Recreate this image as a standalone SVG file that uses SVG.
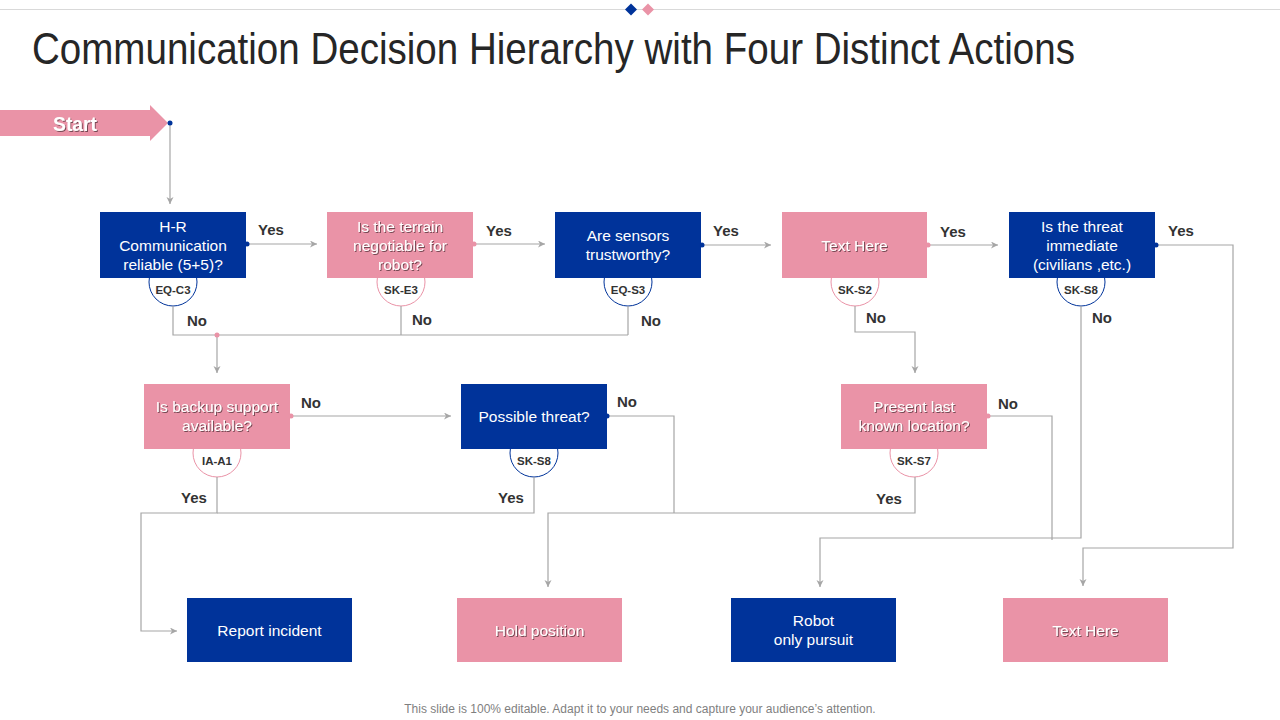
<svg xmlns="http://www.w3.org/2000/svg" width="1280" height="720" viewBox="0 0 1280 720">
<defs>
<style>
.navy{fill:#00339A}
.pink{fill:#EA93A7}
.bt{font-family:"Liberation Sans",Arial,sans-serif;font-size:15.5px;fill:#FFFFFF;text-anchor:middle}
.pt{filter:url(#sh)}
.cn{fill:#FFFFFF;stroke-width:1}
.cnn{stroke:#00339A}
.cnp{stroke:#EA93A7}
.cl{font-family:"Liberation Sans",Arial,sans-serif;font-size:11.5px;font-weight:bold;fill:#333333;text-anchor:middle}
.ln{fill:none;stroke:#A6A6A6;stroke-width:1.2}
.ar{marker-end:url(#ah)}
.lb{font-family:"Liberation Sans",Arial,sans-serif;font-size:15px;font-weight:bold;fill:#333333;text-anchor:middle}
</style>
<filter id="sh" x="-10%" y="-30%" width="120%" height="160%">
<feDropShadow dx="1" dy="1" stdDeviation="0.6" flood-color="#000000" flood-opacity="0.5"/>
</filter>
<marker id="ah" markerUnits="userSpaceOnUse" markerWidth="9" markerHeight="9" refX="7" refY="3.5" orient="auto">
<path d="M0,0 L7,3.5 L0,7 L2,3.5 z" fill="#A6A6A6"/>
</marker>
</defs>
<rect x="0" y="0" width="1280" height="720" fill="#FFFFFF"/>
<g id="header">
<line x1="0" y1="9.5" x2="1280" y2="9.5" stroke="#D9D9D9" stroke-width="1"/>
<path d="M631,3.5 L637,9.5 L631,15.5 L625,9.5 z" fill="#00339A"/>
<path d="M648,3.5 L654,9.5 L648,15.5 L642,9.5 z" fill="#EA93A7"/>
<text x="32" y="64" font-family="Liberation Sans,Arial,sans-serif" font-size="44" fill="#262626" textLength="1043" lengthAdjust="spacingAndGlyphs">Communication Decision Hierarchy with Four Distinct Actions</text>
</g>
<g id="start">
<path d="M0,110 H150 V105 L168,123 L150,141 V136 H0 z" class="pink"/>
<text x="75" y="131" font-family="Liberation Sans,Arial,sans-serif" font-size="20" font-weight="bold" fill="#FFFFFF" text-anchor="middle" filter="url(#sh)" textLength="44" lengthAdjust="spacingAndGlyphs">Start</text>
</g>
<g id="n1">
<circle cx="173" cy="282" r="24" class="cn cnn"/>
<rect x="100" y="212" width="146" height="66" class="navy"/>
<text class="bt"><tspan x="173" y="232">H-R</tspan><tspan x="173" y="251">Communication</tspan><tspan x="173" y="270">reliable (5+5)?</tspan></text>
<text x="173" y="294" class="cl">EQ-C3</text>
</g>
<g id="n2">
<circle cx="401" cy="282" r="24" class="cn cnp"/>
<rect x="327" y="212" width="146" height="66" class="pink"/>
<text class="bt pt"><tspan x="400" y="232">Is the terrain</tspan><tspan x="400" y="251">negotiable for</tspan><tspan x="400" y="270">robot?</tspan></text>
<text x="401" y="294" class="cl">SK-E3</text>
</g>
<g id="n3">
<circle cx="628" cy="282" r="24" class="cn cnn"/>
<rect x="555" y="212" width="146" height="66" class="navy"/>
<text class="bt"><tspan x="628" y="241">Are sensors</tspan><tspan x="628" y="260">trustworthy?</tspan></text>
<text x="628" y="294" class="cl">EQ-S3</text>
</g>
<g id="n4">
<circle cx="855" cy="282" r="24" class="cn cnp"/>
<rect x="782" y="212" width="145" height="66" class="pink"/>
<text x="854.5" y="251" class="bt pt">Text Here</text>
<text x="855" y="294" class="cl">SK-S2</text>
</g>
<g id="n5">
<circle cx="1081" cy="282" r="24" class="cn cnn"/>
<rect x="1009" y="212" width="146" height="66" class="navy"/>
<text class="bt"><tspan x="1082" y="232">Is the threat</tspan><tspan x="1082" y="251">immediate</tspan><tspan x="1082" y="270">(civilians ,etc.)</tspan></text>
<text x="1081" y="294" class="cl">SK-S8</text>
</g>
<g id="b1">
<circle cx="217" cy="453" r="24" class="cn cnp"/>
<rect x="144" y="384" width="146" height="65" class="pink"/>
<text class="bt pt"><tspan x="217" y="412">Is backup support</tspan><tspan x="217" y="431">available?</tspan></text>
<text x="217" y="465" class="cl">IA-A1</text>
</g>
<g id="b2">
<circle cx="534" cy="453" r="24" class="cn cnn"/>
<rect x="461" y="384" width="146" height="65" class="navy"/>
<text x="534" y="422" class="bt">Possible threat?</text>
<text x="534" y="465" class="cl">SK-S8</text>
</g>
<g id="b3">
<circle cx="914" cy="453" r="24" class="cn cnp"/>
<rect x="841" y="384" width="146" height="65" class="pink"/>
<text class="bt pt"><tspan x="914" y="412">Present last</tspan><tspan x="914" y="431">known location?</tspan></text>
<text x="914" y="465" class="cl">SK-S7</text>
</g>
<g id="r1">
<rect x="187" y="598" width="165" height="64" class="navy"/>
<text x="269.5" y="636" class="bt">Report incident</text>
</g>
<g id="r2">
<rect x="457" y="598" width="165" height="64" class="pink"/>
<text x="539.5" y="636" class="bt pt">Hold position</text>
</g>
<g id="r3">
<rect x="731" y="598" width="165" height="64" class="navy"/>
<text class="bt"><tspan x="813.5" y="626">Robot</tspan><tspan x="813.5" y="645">only pursuit</tspan></text>
</g>
<g id="r4">
<rect x="1003" y="598" width="165" height="64" class="pink"/>
<text x="1085.5" y="636" class="bt pt">Text Here</text>
</g>
<g id="connectors">
<path d="M170,123 V204" class="ln ar"/>
<path d="M247,244 H317" class="ln ar"/>
<path d="M474,244 H545" class="ln ar"/>
<path d="M702,245 H771" class="ln ar"/>
<path d="M928,245 H998" class="ln ar"/>
<path d="M1156,245 H1233 V548 H1083 V586" class="ln ar"/>
<path d="M173,306 V335 H628 M401,306 V335 M628,306 V335" class="ln"/>
<path d="M217,335 V373" class="ln ar"/>
<path d="M855,306 V332 H915 V373" class="ln ar"/>
<path d="M1081,306 V538 H820 V587" class="ln ar"/>
<path d="M291,416 H451" class="ln ar"/>
<path d="M607,416 H674 V513" class="ln"/>
<path d="M988,416 H1052 V540" class="ln"/>
<path d="M915,477 V513 H548 V587" class="ln ar"/>
<path d="M217,477 V513 H141 V631 H177" class="ln ar"/>
<path d="M534,477 V513 H217" class="ln"/>
<circle cx="170" cy="123" r="2.5" fill="#00339A"/>
<circle cx="247" cy="244" r="2.5" fill="#00339A"/>
<circle cx="474" cy="244" r="2.5" fill="#EA93A7"/>
<circle cx="702" cy="245" r="2.5" fill="#00339A"/>
<circle cx="928" cy="245" r="2.5" fill="#EA93A7"/>
<circle cx="1156" cy="245" r="2.5" fill="#00339A"/>
<circle cx="217" cy="335" r="2.5" fill="#EA93A7"/>
<circle cx="291" cy="416" r="2.5" fill="#EA93A7"/>
<circle cx="607" cy="416" r="2.5" fill="#00339A"/>
<circle cx="988" cy="416" r="2.5" fill="#EA93A7"/>
<text x="271" y="235" class="lb">Yes</text>
<text x="499" y="236" class="lb">Yes</text>
<text x="726" y="236" class="lb">Yes</text>
<text x="953" y="237" class="lb">Yes</text>
<text x="1181" y="236" class="lb">Yes</text>
<text x="197" y="326" class="lb">No</text>
<text x="422" y="325" class="lb">No</text>
<text x="651" y="326" class="lb">No</text>
<text x="876" y="323" class="lb">No</text>
<text x="1102" y="323" class="lb">No</text>
<text x="311" y="408" class="lb">No</text>
<text x="627" y="407" class="lb">No</text>
<text x="1008" y="409" class="lb">No</text>
<text x="194" y="503" class="lb">Yes</text>
<text x="511" y="503" class="lb">Yes</text>
<text x="889" y="504" class="lb">Yes</text>
</g>
<g id="footer">
<text x="640" y="713" font-family="Liberation Sans,Arial,sans-serif" font-size="12" fill="#7F7F7F" text-anchor="middle">This slide is 100% editable. Adapt it to your needs and capture your audience’s attention.</text>
</g>
</svg>
